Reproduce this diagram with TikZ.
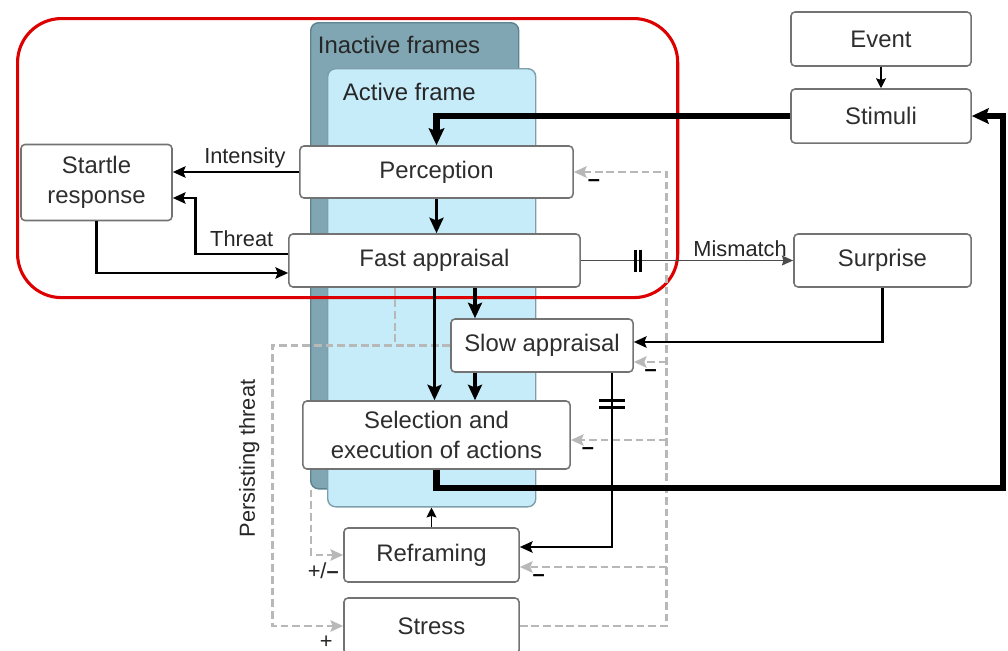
\documentclass[tikz,border=0pt]{standalone}
\usepackage{fontspec}
\setmainfont{Liberation Sans}
\usetikzlibrary{shapes.geometric, arrows, arrows.meta, calc}

\definecolor{inactivefill}{HTML}{7FA6B2}
\definecolor{inactivedraw}{HTML}{5E8390}
\definecolor{activefill}{HTML}{C6ECF9}
\definecolor{activedraw}{HTML}{7E9EAA}
\definecolor{focusred}{HTML}{DD0000}
\definecolor{boxtext}{HTML}{2E2E2E}
\definecolor{fbgray}{HTML}{B8B8B8}

\tikzstyle{process} = [rectangle, rounded corners=0.1cm, 
minimum width=4.5cm, 
minimum height=1.35cm, 
text centered, 
align=center,
draw=black!55, line width=1.1pt, 
fill=white, text=boxtext,
font=\fontsize{17}{21}\selectfont]
\tikzstyle{frame} = [rectangle, rounded corners=0.2cm, 
line width=1pt, 
anchor=north west, 
inner sep=0pt]
\tikzstyle{frametitle} = [anchor=west, text=black!85, 
font=\fontsize{17}{21}\selectfont]
\tikzstyle{tag} = [text=black!85, inner sep=2pt, 
font=\fontsize{15.5}{18}\selectfont]
\tikzstyle{neg} = [inner sep=0pt, font=\fontsize{15.5}{18}\selectfont\bfseries]
\tikzstyle{arrow} = [line width=2pt,-{Stealth[length=9pt, width=8pt, inset=1.5pt]}]
\tikzstyle{thinarrow} = [line width=1.3pt,-{Stealth[length=7pt, width=7pt, inset=1pt]}]
\tikzstyle{thickarrow} = [line width=2.8pt,-{Stealth[length=11pt, width=10pt, inset=2pt]}]
\tikzstyle{heavyarrow} = [line width=4.3pt,-{Stealth[length=12pt, width=11pt, inset=2pt]}]
\tikzstyle{mismatch} = [line width=1.2pt, draw=black!70,-{Stealth[length=8pt, width=7pt, inset=1pt]}]
\tikzstyle{bar} = [line width=2pt]
\tikzstyle{inhibitline} = [line width=2pt, draw=fbgray, dash pattern=on 5.5pt off 2.8pt]
\tikzstyle{inhibit} = [inhibitline,-{Stealth[length=9pt, width=8pt, inset=1.5pt]}]

\begin{document}
\begin{tikzpicture}[x=0.025cm, y=-0.025cm]
\useasboundingbox (0,0) rectangle (1008,651);

% frames
\node (inactive) [frame, fill=inactivefill, draw=inactivedraw, 
minimum width=5.2cm, minimum height=11.65cm] at (310,22) {};
\node (inactivetxt) [frametitle] at ($(inactive.north west)+(3,23)$) {Inactive frames};
\node (active) [frame, fill=activefill, draw=activedraw, 
minimum width=5.2cm, minimum height=10.95cm] at (327,68) {};
\node (activetxt) [frametitle] at ($(active.north west)+(11,24)$) {Active frame};

\node (focus) [frame, draw=focusred, line width=2.2pt, rounded corners=1.1cm,
minimum width=16.5cm, minimum height=6.975cm] at (16,17) {};

% blocks
\node (perception) [process, minimum width=6.825cm, minimum height=1.3cm] at (436.5,172) {Perception};
\node (fast) [process, minimum width=7.275cm, minimum height=1.325cm] at (434.5,260.5) {Fast appraisal};
\node (startle) [process, minimum width=3.775cm, minimum height=1.9cm] at (96.5,182.5) {Startle\\response};
\node (event) [process] at (881,39) {Event};
\node (stimuli) [process, below of=event, node distance=1.925cm] {Stimuli};
\node (surprise) [process, minimum width=4.425cm, minimum height=1.325cm] at (882.5,260.5) {Surprise};
\node (slow) [process, minimum width=4.55cm, minimum height=1.325cm] at (542,345.5) {Slow appraisal};
\node (selection) [process, minimum width=6.675cm, minimum height=1.7cm] at (436.5,435) {Selection and\\execution of actions};
\node (reframing) [process, minimum width=4.375cm] at (431.5,555) {Reframing};
\node (stress) [process, minimum width=4.375cm, minimum height=1.4cm] at (431.5,626) {Stress};

% help points
\coordinate (loopr) at ($(stimuli.east)+(31,0)$);
\coordinate (f2) at ($(fast.south)+(40.5,0)$);
\coordinate (s2) at ($(slow.south)+(70,0)$);
\coordinate (fb) at ($(perception.east)+(93,0)$);
\coordinate (pt) at ($(slow.west)+(-178,0)$);
\coordinate (fj) at ($(fast.south)+(-39.5,0)$);

% feedback (grey)
\draw [inhibit] (stress.east) -| (fb) -- (perception.east);
\draw [inhibit] (fb |- {$(slow.east)+(0,16.5)$}) -- ($(slow.east)+(0,16.5)$);
\draw [inhibit] (fb |- {$(selection.east)+(0,5)$}) -- ($(selection.east)+(0,5)$);
\draw [inhibit] (fb |- {$(reframing.east)+(0,12)$}) -- ($(reframing.east)+(0,12)$);
\draw [inhibitline] (fj) -- (fj |- slow.west);
\draw [inhibit] (slow.west) -- (pt) |- (stress.west);
\draw [inhibit] ($(inactive.south west)+(1,0)$) |- (reframing.west);
\node (persist) [tag, rotate=90] at ($(pt)+(-23,113)$) {Persisting threat};

\node (neg1) [neg] at ($(perception.east)+(20,11)$) {--};
\node (neg2) [neg] at ($(slow.east)+(17,27.5)$) {--};
\node (neg3) [neg] at ($(selection.east)+(17,16)$) {--};
\node (neg4) [neg] at ($(reframing.east)+(19,23)$) {--};
\node (pm) [tag, inner sep=0pt] at ($(reframing.west)+(-20,16)$) {+/\textbf{--}};
\node (plus) [tag, inner sep=0pt] at ($(stress.west)+(-17,16)$) {+};

% main flow
\draw [thinarrow] (event) -- (stimuli);
\draw [heavyarrow] (stimuli.west) -| (perception.north);
\draw [thickarrow] (perception.south) -- (perception.south |- fast.north);
\draw [arrow] (perception.west) -- node[tag, above, pos=0.43] {Intensity} (startle.east |- perception.west);
\draw [arrow] ($(fast.west)+(0,-6.5)$) -- ++(-93,0) node[tag, above, midway, yshift=2pt] {Threat} |- ($(startle.east)+(0,15.5)$);
\draw [arrow] (startle.south) |- ($(fast.west)+(0,12.5)$);
\draw [mismatch] (fast.east) -- node[tag, above, pos=0.75] {Mismatch} (surprise.west);
\coordinate (mbar) at ($(fast.east)!0.27!(surprise.west)$);
\draw [bar] ($(mbar)+(-2.5,-11)$) -- ++(0,22);
\draw [bar] ($(mbar)+(2.5,-11)$) -- ++(0,22);
\draw [arrow] (surprise.south) |- ($(slow.east)+(0,-3.5)$);
\draw [thickarrow] (f2) -- (f2 |- slow.north);
\draw [thickarrow] (fast.south) -- (fast.south |- selection.north);
\draw [thickarrow] (f2 |- slow.south) -- (f2 |- selection.north);
\draw [heavyarrow] (selection.south) -- ++(0,18) -| (loopr) -- (stimuli.east);
\draw [arrow] (s2) |- ($(reframing.east)+(0,-8)$);
\coordinate (sbar) at ($(s2)+(0,31)$);
\draw [bar] ($(sbar)+(-13,-3.5)$) -- ++(26,0);
\draw [bar] ($(sbar)+(-13,3.5)$) -- ++(26,0);
\draw [thinarrow] (reframing.north) -- (reframing.north |- active.south);

\end{tikzpicture}
\end{document}
